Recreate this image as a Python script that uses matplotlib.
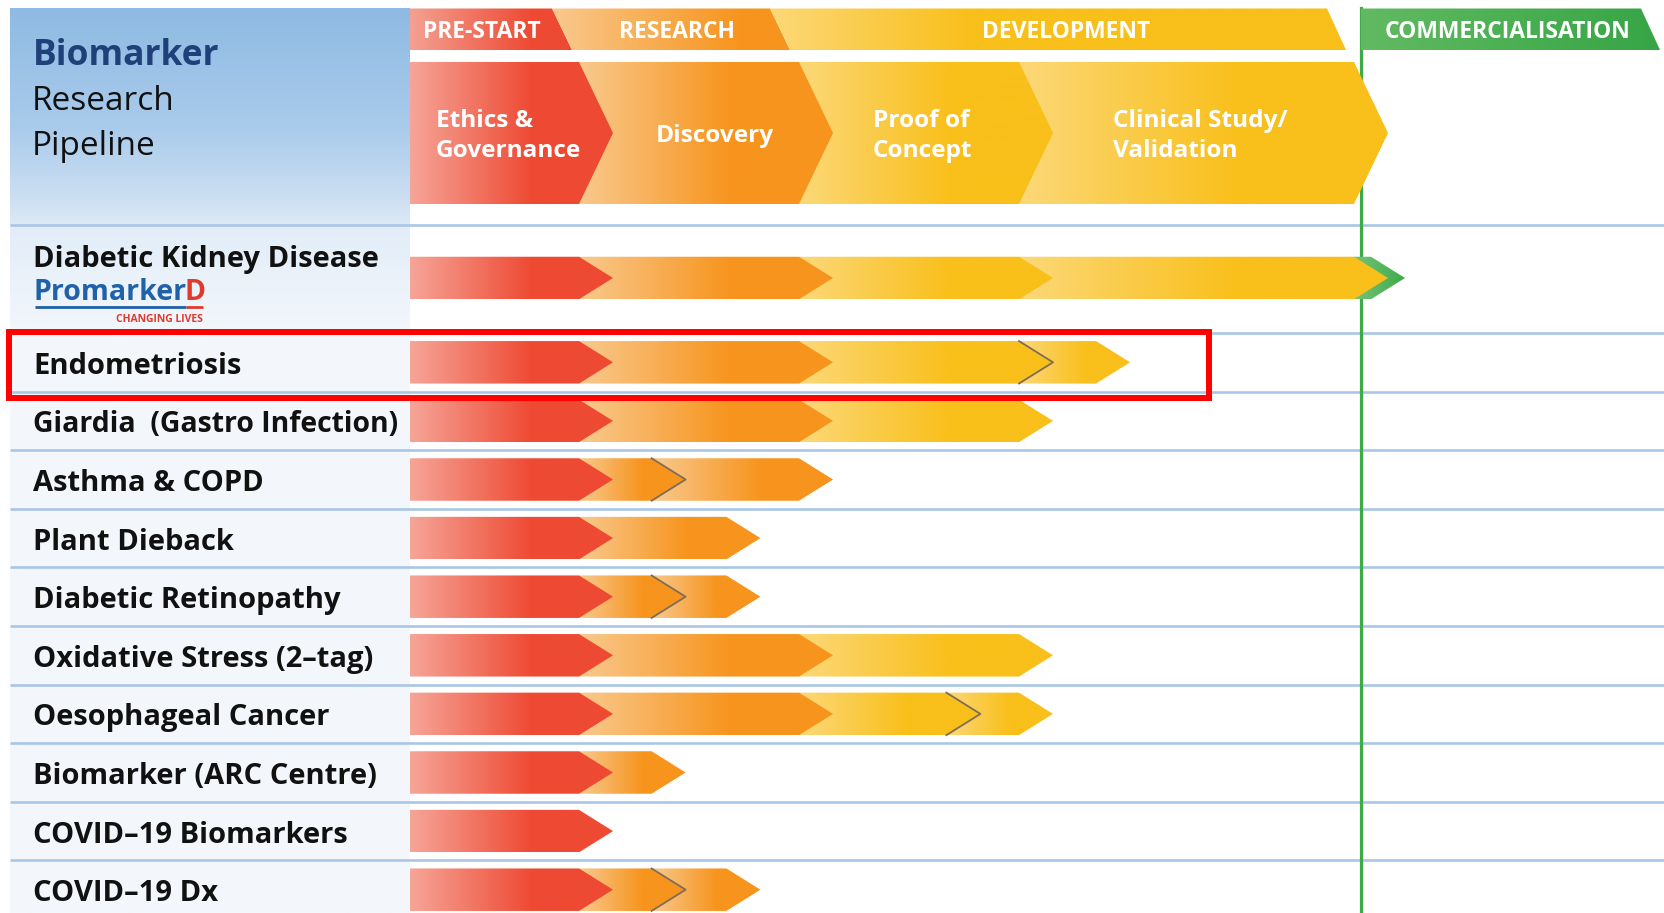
import numpy as np
import matplotlib.pyplot as plt
from matplotlib.patches import Polygon, Rectangle
from matplotlib.colors import to_rgb

plt.rcParams['font.family'] = ['Open Sans', 'DejaVu Sans']

# ---- data ----
projects = ["Diabetic Kidney Disease", "Endometriosis", "Giardia  (Gastro Infection)",
            "Asthma & COPD", "Plant Dieback", "Diabetic Retinopathy",
            "Oxidative Stress (2\u2013tag)", "Oesophageal Cancer", "Biomarker (ARC Centre)",
            "COVID\u201319 Biomarkers", "COVID\u201319 Dx"]
# progress in stage units (1 = Ethics done, 2 = Discovery, 3 = Proof of Concept, 4 = Clinical)
progress = [4.0, 3.23, 3.0, 2.0, 1.67, 1.67, 3.0, 3.0, 1.33, 1.0, 1.67]
checkpoint = [None, 3.0, None, 1.33, None, 1.33, None, 2.67, None, None, 1.33]
launched = [True, False, False, False, False, False, False, False, False, False, False]
highlight = "Endometriosis"

stage_names = ["Ethics &\nGovernance", "Discovery", "Proof of\nConcept", "Clinical Study/\nValidation"]
phase_names = ["PRE-START", "RESEARCH", "DEVELOPMENT", "COMMERCIALISATION"]

# ---- layout ----
W, H = 1665, 913
BOUNDS = [410, 579, 799, 1019, 1354]
TIP = 34
BAR_H = 42.5
GREEN_X = 1361
SEP0, PITCH = 333, 58.6
palettes = [("#f6a598", "#ee4a33"), ("#f9c98e", "#f7941d"),
            ("#fcd878", "#f9bf1a"), ("#fcd878", "#f9bf1a")]


def sx(p):
    i = min(int(np.floor(p + 1e-9)), 3)
    return BOUNDS[i] + (p - i) * (BOUNDS[i + 1] - BOUNDS[i])


def grad_patch(ax, verts, stops, z, vertical=False):
    poly = Polygon(verts, closed=True, fc='none', ec='none', zorder=z)
    ax.add_patch(poly)
    xs, ys = zip(*verts)
    t = np.linspace(0, 1, 256)
    pos = [s[0] for s in stops]
    rgb = np.array([to_rgb(s[1]) for s in stops])
    cols = np.stack([np.interp(t, pos, rgb[:, j]) for j in range(3)], axis=1)
    img = cols[:, None, :] if vertical else cols[None, :, :]
    im = ax.imshow(img, extent=(min(xs), max(xs), max(ys), min(ys)), aspect='auto',
                   zorder=z, interpolation='bilinear', origin='upper')
    im.set_clip_path(poly)


def chevron(xa, xb, yc, h):
    return [(xa, yc - h / 2), (xb, yc - h / 2), (xb + TIP, yc), (xb, yc + h / 2), (xa, yc + h / 2)]


fig = plt.figure(figsize=(W / 100, H / 100), dpi=100)
ax = fig.add_axes([0, 0, 1, 1])

# left header box and label column
grad_patch(ax, [(10, 8.5), (410, 8.5), (410, 225), (10, 225)],
           [(0, "#8fbae3"), (0.55, "#a9cbeb"), (0.85, "#c9ddf1"), (1, "#dde9f6")], 1, vertical=True)
grad_patch(ax, [(10, 225), (410, 225), (410, H), (10, H)],
           [(0, "#e2edf8"), (0.16, "#f3f7fc"), (1, "#f4f8fc")], 1, vertical=True)

# row separators
seps = [225] + [SEP0 + PITCH * i for i in range(len(projects))]
for y in seps:
    ax.plot([10, W], [y, y], color="#a9c6e6", lw=1.9, zorder=2, solid_capstyle='butt')

# commercialisation line
ax.plot([GREEN_X, GREEN_X], [8.5, H], color="#3cab48", lw=2.3, zorder=3)

# phase bands
y0, y1 = 8.5, 50
band_polys = [[(410, y0), (552, y0), (572, y1), (410, y1)],
              [(552, y0), (770, y0), (790, y1), (572, y1)],
              [(770, y0), (1327, y0), (1346, y1), (790, y1)],
              [(GREEN_X, y0), (1641, y0), (1660, y1), (GREEN_X, y1)]]
band_cols = [[(0, "#f4a193"), (0.75, "#ee4a33"), (1, "#ee4a33")],
             [(0, "#f9c98e"), (0.8, "#f7941d"), (1, "#f7941d")],
             [(0, "#fcd878"), (0.35, "#f9bf1a"), (1, "#f9bf1a")],
             [(0, "#62ba62"), (1, "#36a546")]]
band_text_x = [482, 677, 1066, 1508]
for poly, cols, name, tx in zip(band_polys, band_cols, phase_names, band_text_x):
    grad_patch(ax, poly, cols, 4)
    ax.text(tx, 32, name, color='white', fontsize=16.5, fontweight='bold',
            ha='center', va='center', zorder=6)

# header stage chevrons
hy, hh = 133, 142
stage_text = [(436, 'left'), (715, 'center'), (873, 'left'), (1113, 'left')]
for k, name in enumerate(stage_names):
    c0, c1 = palettes[k]
    grad_patch(ax, chevron(BOUNDS[k], BOUNDS[k + 1], hy, hh),
               [(0, c0), (0.6, c1), (1, c1)], 5 + (4 - k) * 0.1)
    tx, ha = stage_text[k]
    ax.text(tx, hy + 3, name, color='white', fontsize=17.6, fontweight='bold', ha=ha, va='center',
            linespacing=1.3, zorder=7)

# project rows
labels = []
row_y = [278] + [SEP0 + PITCH * (i + 0.5) for i in range(len(projects) - 1)]
for r, (name, prog, chk) in enumerate(zip(projects, progress, checkpoint)):
    yc = row_y[r]
    cuts = [0.0] + [float(k) for k in range(1, int(np.floor(prog)) + 1)] + [prog]
    if chk is not None:
        cuts.append(chk)
    cuts = sorted(set(round(c, 4) for c in cuts))
    n = len(cuts) - 1
    for k in range(n):
        a, b = cuts[k], cuts[k + 1]
        stage = min(int(np.floor(a + 1e-9)), 3)
        xa, xb = sx(a), sx(b)
        c0, c1 = palettes[stage]
        z = 5 + (n - k) * 0.1
        grad_patch(ax, chevron(xa, xb, yc, BAR_H), [(0, c0), (0.6, c1), (1, c1)], z)
        if chk is not None and abs(b - chk) < 1e-6:
            ax.plot([xb, xb + TIP, xb], [yc - BAR_H / 2, yc, yc + BAR_H / 2],
                    color="#7f6d58", lw=1.3, zorder=z + 0.05)
    if launched[r]:
        xb = sx(prog)
        grad_patch(ax, chevron(xb, xb + 17, yc, BAR_H), [(0, "#74c477"), (1, "#3fab4b")], 4.9)

    label_y = yc - 19 if r == 0 else yc + 4
    labels.append(ax.text(33, label_y, name, fontsize=21, fontweight='bold', color='#111111',
                          ha='left', va='center', zorder=7))
    if name == highlight:
        ax.add_patch(Rectangle((9, yc - 30), 1200, 66, fill=False, ec='#ff0000', lw=4.3, zorder=9))

# title
ax.text(33, 65, "Biomarker", fontsize=25.5, fontweight='bold', color='#1f4079', va='baseline')
ax.text(32, 110, "Research", fontsize=24, color='#111111', va='baseline')
ax.text(32, 155, "Pipeline", fontsize=24, color='#111111', va='baseline')

ax.set_xlim(0, W)
ax.set_ylim(H, 0)
ax.axis('off')

# PromarkerD logo
t1 = ax.text(34, 300, "Promarker", fontsize=20.5, fontweight='bold', color='#1f62a9', va='baseline', zorder=7)
fig.canvas.draw()
rend = fig.canvas.get_renderer()
inv = ax.transData.inverted()
bb = t1.get_window_extent(rend).transformed(inv)
xd = bb.x1 - 3
t2 = ax.text(xd, 300, "D", fontsize=20.5, fontweight='bold', color='#e03a2e', va='baseline', zorder=7)
bb2 = t2.get_window_extent(rend).transformed(inv)
ax.plot([35, xd + 2], [307, 307], color='#1f62a9', lw=2, zorder=7, solid_capstyle='butt')
ax.plot([xd + 2, bb2.x1 - 2], [307, 307], color='#e03a2e', lw=2, zorder=7, solid_capstyle='butt')
ax.text(bb2.x1 - 2, 319, "CHANGING LIVES", fontsize=7.5, fontweight='bold', color='#e03a2e',
        ha='right', va='center', zorder=7)

# keep long labels inside the label column
for t in labels:
    lb = t.get_window_extent(rend).transformed(inv)
    if lb.x1 > 398:
        t.set_fontsize(21 * (398 - 33) / (lb.x1 - 33))

ax.set_xlim(0, W)
ax.set_ylim(H, 0)
fig.savefig("out.png", dpi=100, facecolor='white')
